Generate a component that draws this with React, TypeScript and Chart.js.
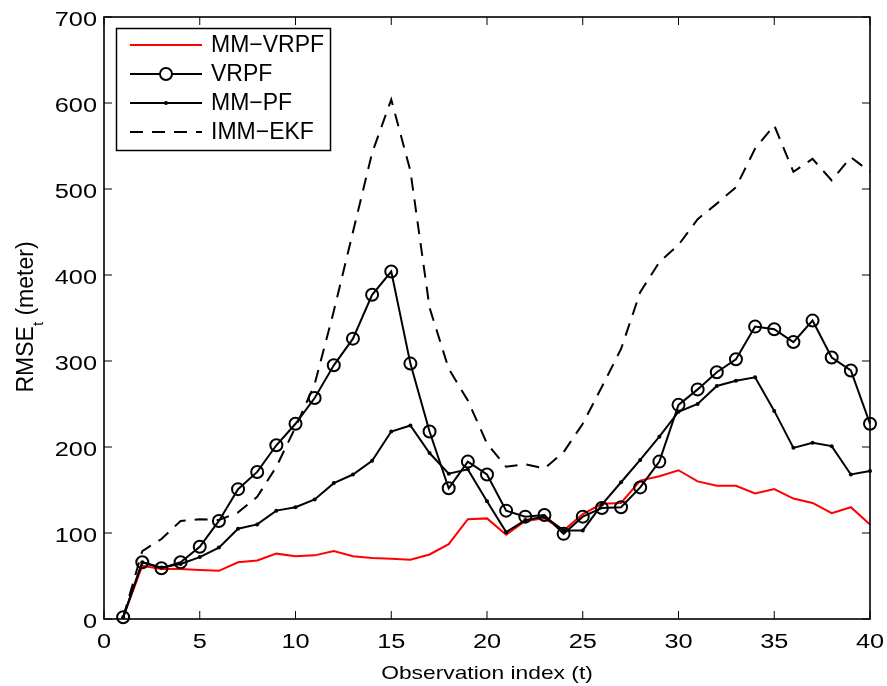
import React, { useEffect, useRef } from "react";
import { Chart, registerables } from "chart.js";

Chart.register(...registerables);

const tIndex = [1, 2, 3, 4, 5, 6, 7, 8, 9, 10, 11, 12, 13, 14, 15, 16, 17, 18, 19, 20, 21, 22, 23, 24, 25, 26, 27, 28, 29, 30, 31, 32, 33, 34, 35, 36, 37, 38, 39, 40];
const mmVrpf = [2, 62, 58, 58, 57, 56, 66, 68, 76, 73, 74, 79, 73, 71, 70, 69, 75, 87, 116, 117, 98, 114, 117, 103, 122, 134, 135, 161, 166, 173, 160, 155, 155, 146, 151, 140, 135, 123, 130, 110];
const vrpf = [2, 66, 59, 66, 84, 114, 151, 171, 202, 227, 257, 295, 326, 377, 404, 297, 218, 152, 183, 168, 126, 119, 121, 99, 119, 129, 130, 153, 183, 249, 267, 287, 302, 340, 337, 322, 347, 304, 289, 227];
const mmPf = [2, 66, 60, 64, 72, 83, 105, 110, 126, 130, 139, 158, 168, 184, 218, 225, 193, 169, 174, 137, 101, 115, 119, 103, 103, 133, 159, 185, 212, 241, 250, 271, 277, 281, 242, 199, 205, 201, 168, 172];
const immEkf = [2, 79, 93, 114, 116, 115, 124, 142, 177, 223, 273, 358, 450, 542, 604, 521, 362, 291, 254, 204, 177, 180, 175, 194, 227, 270, 314, 380, 415, 435, 465, 483, 502, 547, 574, 520, 535, 510, 537, 520];

const xTickValues = [0, 5, 10, 15, 20, 25, 30, 35, 40];
const yTickValues = [0, 100, 200, 300, 400, 500, 600, 700];
const seriesLabels = ["MM\u2212VRPF", "VRPF", "MM\u2212PF", "IMM\u2212EKF"];
const xTitle = "Observation index (t)";
const yTitleMain = "RMSE";
const yTitleSub = "t";
const yTitleUnit = " (meter)";

const FONT = '"Liberation Sans", Arial, Helvetica, sans-serif';

function drawStretched(ctx: CanvasRenderingContext2D, text: string, x: number, y: number, size: number, sx: number, align: string) {
  ctx.save();
  ctx.font = `${size}px ${FONT}`;
  const w = ctx.measureText(text).width * sx;
  let left = x;
  if (align === "center") left = x - w / 2;
  else if (align === "right") left = x - w;
  ctx.translate(left, y);
  ctx.scale(sx, 1);
  ctx.textAlign = "left";
  ctx.textBaseline = "alphabetic";
  ctx.fillStyle = "#000";
  ctx.fillText(text, 0, 0);
  ctx.restore();
}

const framePlugin = {
  id: "matlabFrame",
  afterDatasetsDraw(chart: any) {
    const { ctx, chartArea: a, scales } = chart;
    const xs = scales.x;
    const ys = scales.y;
    ctx.save();
    ctx.strokeStyle = "#000";
    ctx.lineWidth = 1;
    ctx.setLineDash([]);
    ctx.beginPath();
    for (const v of xTickValues) {
      const px = xs.getPixelForValue(v);
      ctx.moveTo(px, a.bottom);
      ctx.lineTo(px, a.bottom - 8);
      ctx.moveTo(px, a.top);
      ctx.lineTo(px, a.top + 8);
    }
    for (const v of yTickValues) {
      const py = ys.getPixelForValue(v);
      ctx.moveTo(a.left, py);
      ctx.lineTo(a.left + 8, py);
      ctx.moveTo(a.right, py);
      ctx.lineTo(a.right - 8, py);
    }
    ctx.stroke();
    ctx.lineWidth = 1.6;
    ctx.strokeRect(a.left, a.top, a.right - a.left, a.bottom - a.top);

    for (const v of xTickValues) {
      drawStretched(ctx, String(v), xs.getPixelForValue(v), a.bottom + 28.5, 19.5, 1.3, "center");
    }
    for (const v of yTickValues) {
      drawStretched(ctx, String(v), a.left - 7, ys.getPixelForValue(v) + 9, 19.5, 1.3, "right");
    }
    drawStretched(ctx, xTitle, (a.left + a.right) / 2, 678.5, 19, 1.2, "center");

    // y title with subscript
    ctx.save();
    ctx.translate(33, (a.top + a.bottom) / 2 - 1);
    ctx.rotate(-Math.PI / 2);
    ctx.fillStyle = "#000";
    ctx.textAlign = "left";
    ctx.textBaseline = "alphabetic";
    ctx.font = `23px ${FONT}`;
    const w1 = ctx.measureText(yTitleMain).width;
    const w3 = ctx.measureText(yTitleUnit).width;
    ctx.font = `15px ${FONT}`;
    const w2 = ctx.measureText(yTitleSub).width;
    const total = w1 + w2 + w3;
    const start = -total / 2;
    ctx.font = `23px ${FONT}`;
    ctx.fillText(yTitleMain, start, 0);
    ctx.fillText(yTitleUnit, start + w1 + w2, 0);
    ctx.font = `15px ${FONT}`;
    ctx.fillText(yTitleSub, start + w1, 10);
    ctx.restore();

    // legend
    const bx = 116.5, by = 28.5, bw = 214, bh = 122;
    ctx.fillStyle = "#fff";
    ctx.fillRect(bx, by, bw, bh);
    ctx.lineWidth = 1.5;
    ctx.strokeStyle = "#000";
    ctx.strokeRect(bx, by, bw, bh);
    chart.data.datasets.forEach((ds: any, i: number) => {
      const y = 45 + i * 29;
      ctx.save();
      ctx.strokeStyle = ds.borderColor;
      ctx.lineWidth = ds.borderWidth;
      ctx.setLineDash(ds.borderDash || []);
      ctx.beginPath();
      ctx.moveTo(130, y);
      ctx.lineTo(202, y);
      ctx.stroke();
      ctx.setLineDash([]);
      if (ds.pointRadius > 0) {
        ctx.beginPath();
        ctx.arc(166, y, ds.pointRadius, 0, Math.PI * 2);
        if (ds.pointRadius > 3) {
          ctx.fillStyle = "#fff";
          ctx.fill();
          ctx.lineWidth = ds.pointBorderWidth;
          ctx.stroke();
        } else {
          ctx.fillStyle = ds.pointBackgroundColor;
          ctx.fill();
        }
      }
      ctx.restore();
      ctx.fillStyle = "#000";
      ctx.font = `23px ${FONT}`;
      ctx.textAlign = "left";
      ctx.textBaseline = "middle";
      ctx.fillText(seriesLabels[i], 211, y + 1);
    });
    ctx.restore();
  },
};

export default function App() {
  const ref = useRef<HTMLCanvasElement | null>(null);
  useEffect(() => {
    if (!ref.current) return;
    const mk = (arr: number[]) => tIndex.map((t, i) => ({ x: t, y: arr[i] }));
    const chart = new Chart(ref.current, {
      type: "line",
      data: {
        datasets: [
          {
            label: seriesLabels[0],
            data: mk(mmVrpf),
            borderColor: "#ff0000",
            borderWidth: 2,
            pointRadius: 0,
            tension: 0,
            fill: false,
            clip: false,
            order: 4,
          },
          {
            label: seriesLabels[1],
            data: mk(vrpf),
            borderColor: "#000000",
            borderWidth: 2,
            pointRadius: 6,
            pointBorderWidth: 2,
            pointBorderColor: "#000000",
            pointBackgroundColor: "rgba(0,0,0,0)",
            tension: 0,
            fill: false,
            clip: false,
            order: 3,
          },
          {
            label: seriesLabels[2],
            data: mk(mmPf),
            borderColor: "#000000",
            borderWidth: 2,
            pointRadius: 2,
            pointBorderWidth: 0,
            pointBackgroundColor: "#000000",
            tension: 0,
            fill: false,
            clip: false,
            order: 2,
          },
          {
            label: seriesLabels[3],
            data: mk(immEkf),
            borderColor: "#000000",
            borderWidth: 2,
            borderDash: [13, 9],
            pointRadius: 0,
            tension: 0,
            fill: false,
            clip: false,
            order: 1,
          },
        ],
      },
      options: {
        animation: false,
        responsive: false,
        maintainAspectRatio: false,
        layout: { padding: { left: 0, right: 17, top: 17, bottom: 0 } },
        plugins: { legend: { display: false }, tooltip: { enabled: false } },
        scales: {
          x: {
            type: "linear",
            min: 0,
            max: 40,
            ticks: { display: false, stepSize: 5 },
            grid: { display: false, drawTicks: false },
            border: { display: false },
            afterFit: (s: any) => {
              s.height = 67;
            },
          },
          y: {
            type: "linear",
            min: 0,
            max: 700,
            ticks: { display: false, stepSize: 100 },
            grid: { display: false, drawTicks: false },
            border: { display: false },
            afterFit: (s: any) => {
              s.width = 104;
            },
          },
        },
      },
      plugins: [framePlugin],
    });
    return () => chart.destroy();
  }, []);
  return (
    <div style={{ position: "absolute", left: 0, top: 0, width: 887, height: 686, background: "#fff" }}>
      <canvas ref={ref} width={887} height={686} style={{ display: "block" }} />
    </div>
  );
}
